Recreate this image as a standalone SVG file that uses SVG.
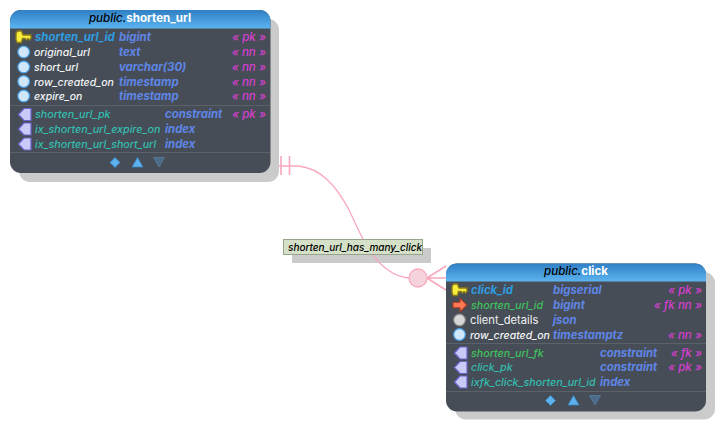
<svg xmlns="http://www.w3.org/2000/svg" width="726" height="431" viewBox="0 0 726 431">
<style>
text{font-family:"Inter","Liberation Sans",sans-serif;font-size:11.400px;font-style:italic;font-weight:700}
.title{font-size:11.600px;font-weight:700;text-anchor:middle;fill:#fff;font-style:normal}
.schema{font-style:italic;font-weight:500;fill:#000}
.pk{fill:#2e9ce0}.fk{fill:#3fc25c;font-weight:500;font-size:10.700px}.col{fill:#f2f4f6;font-weight:500;font-size:10.500px}.ix{fill:#34bdb0;font-weight:500;font-size:10.700px}
.ty{fill:#5f86e6}.tag{fill:#d63fd0;text-anchor:end;font-weight:500;font-size:11.600px}
.plain{fill:#eef0f2;font-style:normal;font-weight:400;font-size:11.200px}
.body{fill:#464d56}.shadow{fill:#cbcbcb}.sep{stroke:#5a6169;stroke-width:1}
.rel{fill:none;stroke:#f9a8bc;stroke-width:1.300}.bar{stroke:#f9a8bc;stroke-width:1.600}
.lbl{font-size:10px;font-weight:500;fill:#000}
</style>
<defs>
<linearGradient id="hd" x1="0" y1="0" x2="0" y2="1"><stop offset="0" stop-color="#2f7fc4"/><stop offset="1" stop-color="#5cb4f0"/></linearGradient>
<g id="key"><path d="M-6.500-6h4l1.500 4h8v3.500l-1.500 1.500-1.500-1.500-1.500 1.500-1.500-1.500h-2.500l-1 4h-4.500l-1-3v-6z" fill="#f7ec3c" stroke="#8a7a1c" stroke-width="1.400"/></g>
<g id="fkey"><path d="M-7-2.800h7v-4l7 6.800-7 6.800v-4h-7z" fill="#ff7a55" stroke="#a83a22" stroke-width="1.100"/></g>
<circle id="nn" r="5.800" fill="#cfe6fb" stroke="#4aa3ea" stroke-width="1.200"/>
<circle id="nul" r="5.800" fill="#d6d6d6" stroke="#8d8d8d" stroke-width="1.200"/>
<path id="ixi" d="M-6.500 0L-1-6H6V6H-1z" fill="#c9caf8" stroke="#6b64cc" stroke-width="1.200" stroke-linejoin="round"/>
<path id="dia" d="M0-5l5 5-5 5-5-5z" fill="#5cb2ef" stroke="#3b86c4" stroke-width=".8"/>
<path id="up" d="M0-5l5.500 9.500h-11z" fill="#5cb2ef" stroke="#3b86c4" stroke-width=".8"/>
<path id="dn" d="M-5.500-4.500h11l-5.500 9.500z" fill="#4c6b88" stroke="#55809f" stroke-width=".8"/>
</defs>
<rect class="shadow" x="292" y="248" width="139" height="15"/>
<g id="connectors">
<path class="rel" d="M270 166H298C322 168 337 188 348 208C356 224 362 240 370 251C380 266 394 277 409 278"/>
<path class="bar" d="M281 156V175M289.500 156V175"/>
<path class="bar" fill="none" d="M427 278L446 266M427 278H446M427 278L446 290"/>
<circle cx="418" cy="278" r="9" fill="#f5d3da" stroke="#f9a8bc" stroke-width="1.300"/>
</g>
<g id="relation-label">
<rect x="283.500" y="239.500" width="139" height="15" fill="#d4e0c7" stroke="#97a58a"/>
<text class="lbl" x="288" y="251">shorten_url_has_many_click</text>
</g>
<g id="shorten_url">
<rect class="shadow" x="19" y="19" width="260" height="163" rx="11"/>
<rect class="body" x="10" y="10" width="260.500" height="163" rx="11"/>
<path d="M21 10H259.500a11 11 0 0 1 11 11V28.500H10V21a11 11 0 0 1 11-11z" fill="url(#hd)"/>
<text class="title" x="140" y="22"><tspan class="schema">public.</tspan>shorten_url</text>
<use href="#key" x="24" y="37"/><text class="pk" x="35" y="41">shorten_url_id</text><text class="ty" x="119" y="41">bigint</text><text class="tag" x="266" y="41">« pk »</text>
<use href="#nn" x="23.700" y="52"/><text class="col" x="34" y="56">original_url</text><text class="ty" x="119" y="56">text</text><text class="tag" x="266" y="56">« nn »</text>
<use href="#nn" x="23.700" y="67"/><text class="col" x="34" y="71">short_url</text><text class="ty" x="119" y="71">varchar(30)</text><text class="tag" x="266" y="71">« nn »</text>
<use href="#nn" x="23.700" y="81.500"/><text class="col" x="34" y="85.500">row_created_on</text><text class="ty" x="119" y="85.500">timestamp</text><text class="tag" x="266" y="85.500">« nn »</text>
<use href="#nn" x="23.700" y="96"/><text class="col" x="34" y="100">expire_on</text><text class="ty" x="119" y="100">timestamp</text><text class="tag" x="266" y="100">« nn »</text>
<path class="sep" d="M10 105.500H270"/>
<use href="#ixi" x="25" y="114.500"/><text class="ix" x="35" y="118">shorten_url_pk</text><text class="ty" x="165" y="118">constraint</text><text class="tag" x="266" y="118">« pk »</text>
<use href="#ixi" x="25" y="129"/><text class="ix" x="35" y="133">ix_shorten_url_expire_on</text><text class="ty" x="165" y="133">index</text>
<use href="#ixi" x="25" y="144"/><text class="ix" x="35" y="148">ix_shorten_url_short_url</text><text class="ty" x="165" y="148">index</text>
<path class="sep" d="M10 152.500H270"/>
<use href="#dia" x="115" y="162.500"/><use href="#up" x="137.500" y="162.500"/><use href="#dn" x="159" y="162"/>
</g>
<g id="click">
<rect class="shadow" x="455" y="272" width="260" height="147.500" rx="11"/>
<rect class="body" x="446" y="263.500" width="260" height="148" rx="11"/>
<path d="M457 263.500H695a11 11 0 0 1 11 11V281.500H446V274.500a11 11 0 0 1 11-11z" fill="url(#hd)"/>
<text class="title" x="576" y="275"><tspan class="schema">public.</tspan>click</text>
<use href="#key" x="460" y="290"/><text class="pk" x="471" y="294">click_id</text><text class="ty" x="553" y="294">bigserial</text><text class="tag" x="702" y="294">« pk »</text>
<use href="#fkey" x="460" y="305"/><text class="fk" x="471" y="309">shorten_url_id</text><text class="ty" x="553" y="309">bigint</text><text class="tag" x="702" y="309">« fk nn »</text>
<use href="#nul" x="459.500" y="320"/><text class="plain" x="470" y="324">client_details</text><text class="ty" x="553" y="324">json</text>
<use href="#nn" x="459.500" y="334.500"/><text class="col" x="470" y="338.500">row_created_on</text><text class="ty" x="553" y="338.500">timestamptz</text><text class="tag" x="702" y="338.500">« nn »</text>
<path class="sep" d="M446 343.500H706"/>
<use href="#ixi" x="461" y="353"/><text class="fk" x="471" y="357">shorten_url_fk</text><text class="ty" x="600" y="357">constraint</text><text class="tag" x="702" y="357">« fk »</text>
<use href="#ixi" x="461" y="367.500"/><text class="ix" x="471" y="371">click_pk</text><text class="ty" x="600" y="371">constraint</text><text class="tag" x="702" y="371">« pk »</text>
<use href="#ixi" x="461" y="382"/><text class="ix" x="471" y="386">ixfk_click_shorten_url_id</text><text class="ty" x="600" y="386">index</text>
<path class="sep" d="M446 391.500H706"/>
<use href="#dia" x="550.500" y="400.500"/><use href="#up" x="573.500" y="400.500"/><use href="#dn" x="595" y="400"/>
</g>
</svg>
